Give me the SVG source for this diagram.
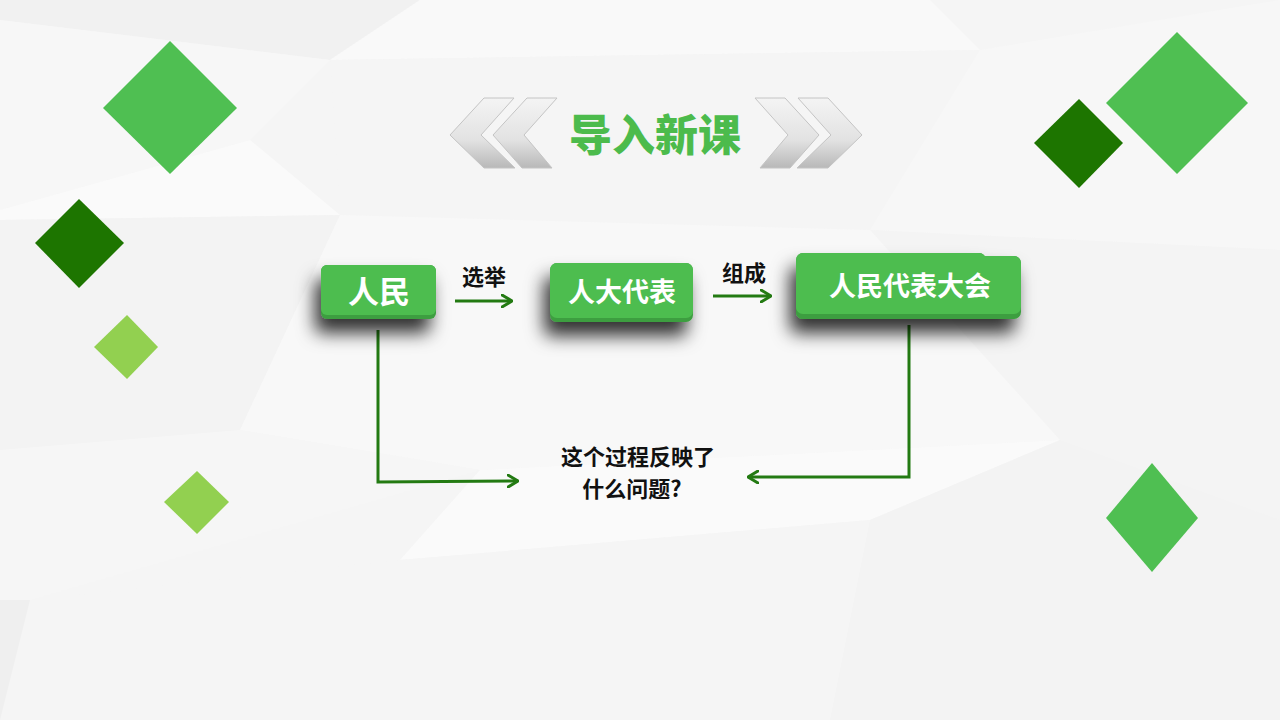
<svg xmlns="http://www.w3.org/2000/svg" width="1280" height="720" viewBox="0 0 1280 720">
<defs>
<style>
.bg{fill:#f5f5f5}
.facet{stroke:none}
.box{fill:#4dbd50}
.boxedge{fill:#3e9e40}
.btxt{font-family:"Noto Sans CJK SC","Noto Sans",sans-serif;font-weight:700;fill:#ffffff;text-anchor:middle}
.lbl{font-family:"Noto Sans CJK SC","Noto Sans",sans-serif;font-weight:700;fill:#111111;text-anchor:middle}
.title{font-family:"Noto Sans CJK SC","Noto Sans",sans-serif;font-weight:900;fill:#4cbb4c;font-size:43px;text-anchor:middle}
.conn{fill:none;stroke:#237a12;stroke-width:3}
</style>
<filter id="sh" x="-40%" y="-50%" width="180%" height="260%">
<feDropShadow dx="-6" dy="14" stdDeviation="9" flood-color="#000" flood-opacity="0.8"/>
</filter>
<linearGradient id="chev" x1="0" y1="0" x2="0" y2="1">
<stop offset="0" stop-color="#f4f4f4"/>
<stop offset="0.6" stop-color="#e2e2e2"/>
<stop offset="1" stop-color="#b8b8b8"/>
</linearGradient>
<marker id="arr" viewBox="0 0 12 14" refX="11" refY="7" markerWidth="12" markerHeight="14" markerUnits="userSpaceOnUse" orient="auto">
<path d="M1,1 L11,7 L1,13" fill="none" stroke="#237a12" stroke-width="3" stroke-linecap="round" stroke-linejoin="round"/>
</marker>
</defs>

<g id="background">
<rect class="bg" x="0" y="0" width="1280" height="720"/>
<polygon class="facet" points="0,0 420,0 330,60 0,20" fill="#f1f1f1"/>
<polygon class="facet" points="0,20 330,60 250,140 0,210" fill="#f7f7f7"/>
<polygon class="facet" points="420,0 930,0 980,50 330,60" fill="#f9f9f9"/>
<polygon class="facet" points="330,60 980,50 870,230 340,215" fill="#f5f5f5"/>
<polygon class="facet" points="0,210 250,140 340,215 0,220" fill="#fafafa"/>
<polygon class="facet" points="0,220 340,215 240,430 0,450" fill="#f3f3f3"/>
<polygon class="facet" points="980,50 1280,0 1280,250 870,230" fill="#f7f7f7"/>
<polygon class="facet" points="870,230 1280,250 1280,520 1060,440" fill="#f4f4f4"/>
<polygon class="facet" points="340,215 870,230 1060,440 480,470 240,430" fill="#f8f8f8"/>
<polygon class="facet" points="0,450 240,430 480,470 30,600 0,600" fill="#f6f6f6"/>
<polygon class="facet" points="480,470 1060,440 870,520 400,560" fill="#fafafa"/>
<polygon class="facet" points="30,600 400,560 870,520 830,720 0,720 0,600" fill="#f5f5f5"/>
<polygon class="facet" points="870,520 1060,440 1280,520 1280,720 830,720" fill="#f3f3f3"/>
<polygon class="facet" points="0,600 30,600 0,720" fill="#efefef"/>
</g>

<g id="decor-diamonds">
<polygon points="170,41 237,108 170,174 103,108" fill="#4fbf52"/>
<polygon points="79,199 124,243 79,288 35,243" fill="#1d7500"/>
<polygon points="127,315 158,347 127,379 94,347" fill="#92d050"/>
<polygon points="197,471 229,502 197,534 164,502" fill="#92d050"/>
<polygon points="1177,32 1248,103 1177,174 1106,103" fill="#4fbf52"/>
<polygon points="1079,99 1123,143 1079,188 1034,143" fill="#1d7500"/>
<polygon points="1152,463 1198,518 1152,572 1106,518" fill="#4fbf52"/>
</g>

<g id="title">
<polygon points="450,135 484,98 514,98 481,135 515,168 484,168" fill="url(#chev)" stroke="#c4c4c4" stroke-width="1"/>
<polygon points="493,135 527,98 557,98 524,135 552,168 522,168" fill="url(#chev)" stroke="#c4c4c4" stroke-width="1"/>
<polygon points="862,135 828,98 798,98 831,135 797,168 828,168" fill="url(#chev)" stroke="#c4c4c4" stroke-width="1"/>
<polygon points="819,135 785,98 755,98 788,135 760,168 790,168" fill="url(#chev)" stroke="#c4c4c4" stroke-width="1"/>
<text class="title" x="655" y="151">导入新课</text>
</g>

<g id="connectors">
<line class="conn" x1="455" y1="301" x2="512" y2="301" marker-end="url(#arr)"/>
<line class="conn" x1="713" y1="296" x2="771" y2="296" marker-end="url(#arr)"/>
<polyline class="conn" points="378,330 378,482 518,481" marker-end="url(#arr)"/>
<polyline class="conn" points="909,325 909,477 748,477" marker-end="url(#arr)"/>
<text class="lbl" x="484" y="285" font-size="22">选举</text>
<text class="lbl" x="744" y="281" font-size="22">组成</text>
</g>

<g id="node-renmin">
<g filter="url(#sh)">
<rect class="boxedge" x="321" y="265" width="115" height="54" rx="6"/>
<rect class="box" x="321" y="265" width="115" height="50" rx="6"/>
</g>
<text class="btxt" x="379" y="303" font-size="31">人民</text>
</g>

<g id="node-rendadaibiao">
<g filter="url(#sh)">
<rect class="boxedge" x="550" y="263" width="143" height="59" rx="7"/>
<rect class="box" x="550" y="263" width="143" height="55" rx="7"/>
</g>
<text class="btxt" x="622" y="302" font-size="27">人大代表</text>
</g>

<g id="node-renmindaibiaodahui">
<g filter="url(#sh)">
<rect class="boxedge" x="796" y="253" width="190" height="66" rx="7"/>
<rect class="boxedge" x="796" y="256" width="225" height="63" rx="7"/>
<rect class="box" x="796" y="253" width="190" height="60" rx="7"/>
<rect class="box" x="796" y="256" width="225" height="58" rx="7"/>
</g>
<text class="btxt" x="910" y="296" font-size="27">人民代表大会</text>
</g>

<g id="node-question">
<text class="lbl" font-size="22"><tspan x="638" y="465">这个过程反映了</tspan><tspan x="632" y="497">什么问题?</tspan></text>
</g>
</svg>
